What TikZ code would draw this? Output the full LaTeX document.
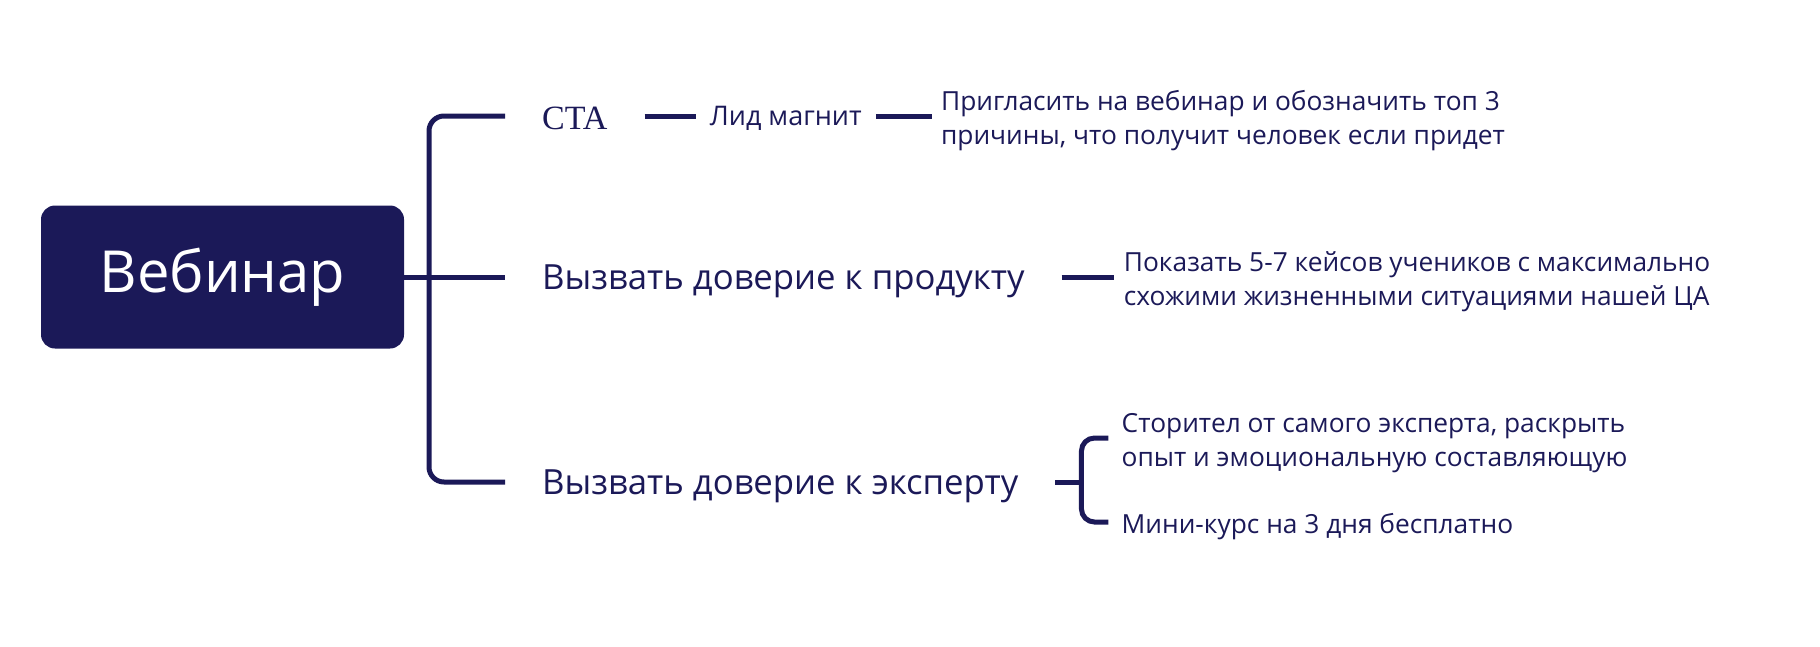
\documentclass[tikz,border=0pt]{standalone}
\usepackage{fontspec}
\setmainfont{Open Sans}
\newfontfamily\ctafont{Liberation Serif}
\usepackage{tikz}
\usetikzlibrary{positioning}
\definecolor{navy}{RGB}{27,25,88}
\tikzstyle{root}=[shape=rectangle,rounded corners=14pt,fill=navy,text=white,minimum width=363pt,minimum height=143pt,font=\fontsize{58}{70}\selectfont]
\tikzstyle{branch}=[text=navy,inner xsep=37pt,inner ysep=0pt,text height=25pt,text depth=0pt,font=\fontsize{34.7}{42}\selectfont]
\tikzstyle{lead}=[text=navy,inner xsep=14pt,inner ysep=0pt,text height=19pt,text depth=0pt,font=\fontsize{27}{34}\selectfont]
\tikzstyle{note}=[text=navy,align=left,inner ysep=0pt,yshift=-5pt,font=\fontsize{26.3}{34}\selectfont]
\tikzstyle{link}=[draw=navy,line width=5pt]

\begin{document}
\begin{tikzpicture}[x=1pt,y=-1pt]
            \useasboundingbox (0,0) rectangle (1820,646);
            \node[root] (web) at (222.5,277) {Вебинар};
            \coordinate (tr) at (429,277);
            % first branch
            \node[branch, anchor=west, text height=26pt, font=\fontsize{34}{40}\ctafont] (cta) at (505,116) {CTA};
            \node[lead, right=51pt of cta] (lid) {Лид магнит};
            \node[note, inner xsep=9pt, right=56pt of lid] (invite) {Пригласить на вебинар и обозначить топ 3\\причины, что получит человек если придет};
            % second branch
            \node[branch, anchor=west] (prod) at (505,277) {Вызвать доверие к продукту};
            \node[note, inner xsep=10pt, right=52pt of prod] (cases) {Показать 5-7 кейсов учеников с максимально\\схожими жизненными ситуациями нашей ЦА};
            % third branch
            \node[branch, anchor=west] (exp) at (505,482) {Вызвать доверие к эксперту};
            \coordinate[right=26pt of exp] (eb);
            \coordinate (st) at ([shift={(27,-44)}]eb);
            \coordinate (mk) at ([shift={(27,40)}]eb);
            \node[note, inner xsep=13pt, anchor=west] (story) at (st) {Сторител от самого эксперта, раскрыть\\опыт и эмоциональную составляющую};
            \node[note, inner xsep=13pt, anchor=west] (mini) at (mk) {Мини-курс на 3 дня бесплатно};

            \draw[link, rounded corners=15pt] (cta.west) -| (tr) |- (exp.west);
            \draw[link] (web.east) -- (prod.west);
            \draw[link] (cta.east) -- (lid.west);
            \draw[link] (lid.east) -- (lid.east -| invite.west);
            \draw[link] (prod.east) -- (prod.east -| cases.west);
            \draw[link] (exp.east) -- (eb);
            \draw[link, rounded corners=13pt] (st) -| (eb) |- (mk);
        \end{tikzpicture}
\end{document}
